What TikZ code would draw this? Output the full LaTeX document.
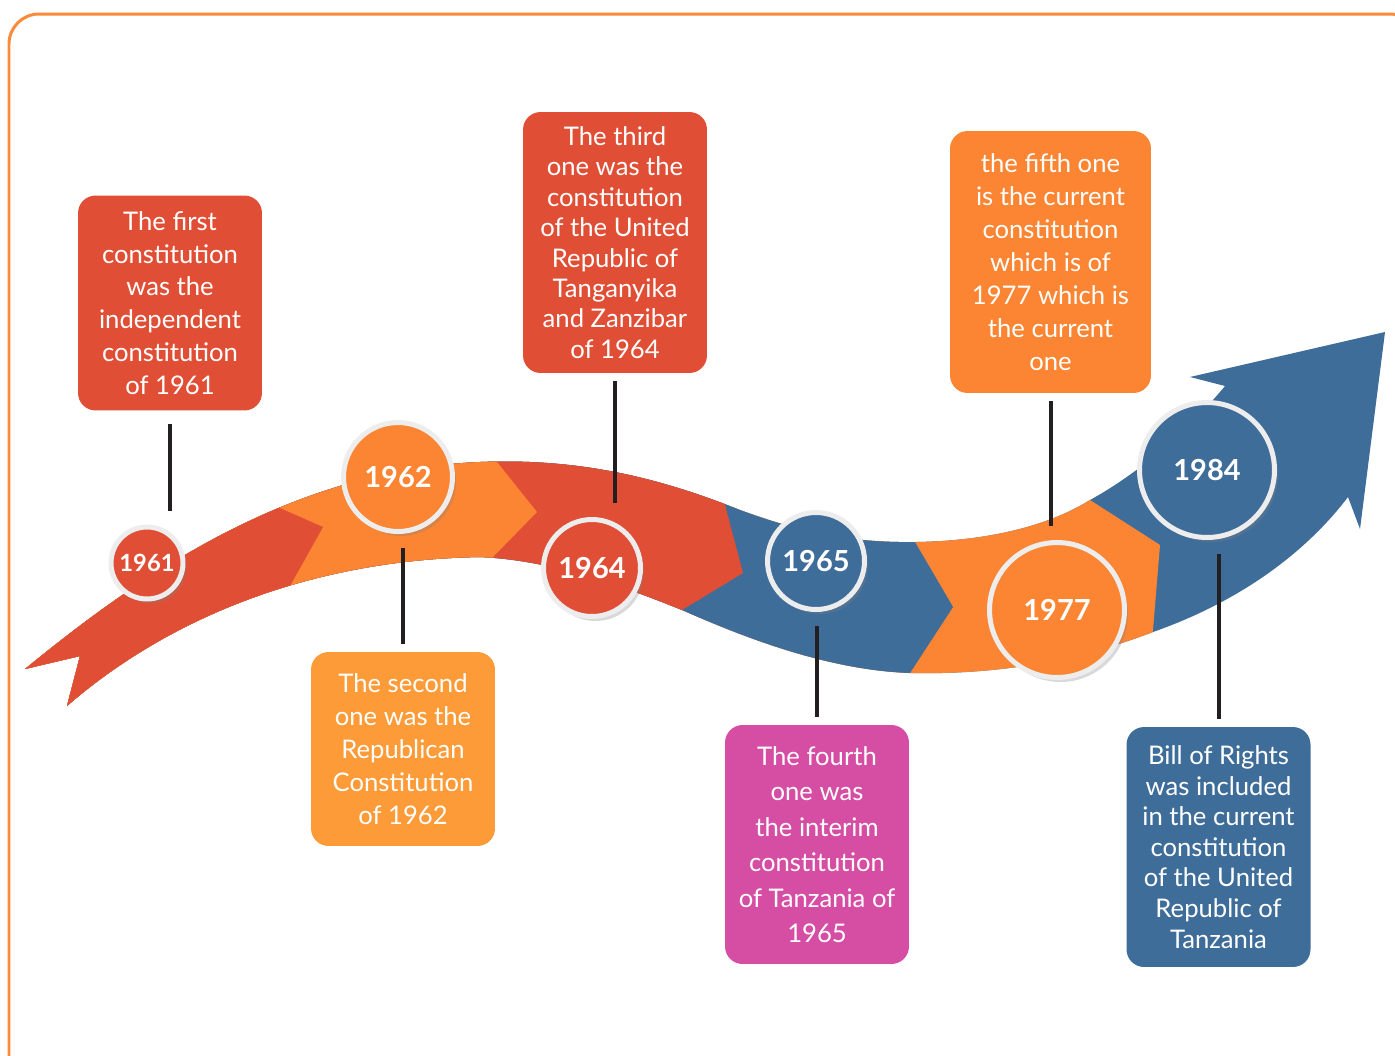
\documentclass[tikz,border=0pt]{standalone}
\usepackage{fontspec}
\setmainfont{Lato}
\usetikzlibrary{shadows}

\definecolor{ribbonRed}{HTML}{E04F35}
\definecolor{ribbonOrange}{HTML}{FB8532}
\definecolor{ribbonBlue}{HTML}{3F6D9A}
\definecolor{boxOrange}{HTML}{FC9B37}
\definecolor{boxPink}{HTML}{D64DA4}
\definecolor{frameOrange}{HTML}{FB8A3A}
\definecolor{stemBlack}{HTML}{231F20}

\tikzset{
    infobox/.style={rounded corners=10pt, text=white, align=center, inner sep=0pt, minimum width=3.68cm},
    yearball/.style={circle, draw=white!93!black, line width=0.1cm, text=white, inner sep=0pt,
        drop shadow={opacity=0.3, shadow xshift=0.07cm, shadow yshift=-0.09cm}},
    stem/.style={stemBlack, line width=0.08cm, shorten <=0.16cm, shorten >=0.28cm}
}

\begin{document}
\begin{tikzpicture}[x=0.02cm, y=-0.02cm]
    \useasboundingbox (0,0) rectangle (1395,1055);
    \clip (0,0) rectangle (1395,1055);
    \draw[frameOrange, line width=0.06cm, rounded corners=0.6cm] (9,14) rectangle (1420,1090);

    % ribbon
    \begin{scope}
        \clip (25,669) .. controls (140,575) and (290,470) .. (480,462)
            .. controls (580,458) and (660,478) .. (740,510)
            .. controls (800,532) and (850,543) .. (915,542)
            .. controls (990,541) and (1050,525) .. (1090,500)
            .. controls (1130,478) and (1180,440) .. (1225,386)
            -- (1190,377) -- (1385,332) -- (1360,529) -- (1348,497)
            .. controls (1300,560) and (1230,605) .. (1153,632)
            .. controls (1080,660) and (1000,675) .. (910,673)
            .. controls (830,670) and (750,640) .. (682,610)
            .. controls (620,585) and (550,560) .. (480,557)
            .. controls (300,560) and (160,625) .. (67,706)
            -- (80,656) -- cycle;
        \fill[ribbonBlue] (0,300) rectangle (1395,720);
        \fill[ribbonOrange] (0,0) -- (1080,0) -- (1080,494) -- (1090,500) -- (1160,545) -- (1153,630) -- (1152,642) -- (1152,1055) -- (0,1055) -- cycle;
        \fill[ribbonBlue] (0,0) -- (909,0) -- (909,532) -- (915,542) -- (953,607) -- (910,673) -- (904,682) -- (904,1055) -- (0,1055) -- cycle;
        \fill[ribbonRed] (0,0) -- (722,0) -- (722,495) -- (725,505) -- (743,573) -- (682,610) -- (672,616) -- (672,1055) -- (0,1055) -- cycle;
        \fill[ribbonOrange] (0,0) -- (489,0) -- (489,452) -- (497,462) -- (537,512) -- (493,557) -- (485,565) -- (485,1055) -- (0,1055) -- cycle;
        \fill[ribbonRed] (0,0) -- (263,0) -- (263,501) -- (273,505) -- (323,527) -- (295,577) -- (290,586) -- (290,1055) -- (0,1055) -- cycle;
    \end{scope}

    % years
    \node[yearball, fill=ribbonRed, minimum size=1.44cm, font=\bfseries\fontsize{13.5}{16}\selectfont] (c1) at (147,563) {1961};
    \node[yearball, fill=ribbonOrange, minimum size=2.18cm, font=\bfseries\fontsize{16.5}{20}\selectfont] (c2) at (398,477) {1962};
    \node[yearball, fill=ribbonRed, minimum size=1.94cm, font=\bfseries\fontsize{16.5}{20}\selectfont] (c3) at (592,568) {1964};
    \node[yearball, fill=ribbonBlue, minimum size=1.94cm, font=\bfseries\fontsize{16.5}{20}\selectfont] (c4) at (816,561) {1965};
    \node[yearball, fill=ribbonOrange, minimum size=2.7cm, font=\bfseries\fontsize{16.5}{20}\selectfont] (c5) at (1057,610) {1977};
    \node[yearball, fill=ribbonBlue, minimum size=2.7cm, font=\bfseries\fontsize{16.5}{20}\selectfont] (c6) at (1207,470) {1984};

    % boxes
    \node[infobox, fill=ribbonRed, minimum height=4.3cm, font=\fontsize{14.6}{18.7}\selectfont] (b1) at (170,303)
        {The first\\constitution\\was the\\independent\\constitution\\of 1961};
    \node[infobox, fill=boxOrange, minimum height=3.88cm, font=\fontsize{14.6}{18.7}\selectfont] (b2) at (403,749)
        {The second\\one was the\\Republican\\Constitution\\of 1962};
    \node[infobox, fill=ribbonRed, minimum height=5.22cm, font=\fontsize{14.6}{17.3}\selectfont] (b3) at (615,242.5)
        {The third\\one was the\\constitution\\of the United\\Republic of\\Tanganyika\\and Zanzibar\\of 1964};
    \node[infobox, fill=boxPink, minimum height=4.78cm, font=\fontsize{14.6}{20.2}\selectfont] (b4) at (817,844.5)
        {The fourth\\one was\\the interim\\constitution\\of Tanzania of\\1965};
    \node[infobox, fill=ribbonOrange, minimum width=4.02cm, minimum height=5.24cm, font=\fontsize{14.6}{18.8}\selectfont] (b5) at (1050.5,262)
        {the fifth one\\is the current\\constitution\\which is of\\1977 which is\\the current\\one};
    \node[infobox, fill=ribbonBlue, minimum height=4.8cm, font=\fontsize{14.6}{17.4}\selectfont] (b6) at (1218.5,847)
        {Bill of Rights\\was included\\in the current\\constitution\\of the United\\Republic of\\Tanzania};

    % stems
    \draw[stem, shorten <=0.26cm] (b1.south) -- (b1.south |- c1.north);
    \draw[stem] (b2.north) -- (b2.north |- c2.south);
    \draw[stem] (b3.south) -- (b3.south |- c3.north);
    \draw[stem] (b4.north) -- (b4.north |- c4.south);
    \draw[stem] (b5.south) -- (b5.south |- c5.north);
    \draw[stem] (b6.north) -- (b6.north |- c6.south);
\end{tikzpicture}
\end{document}
